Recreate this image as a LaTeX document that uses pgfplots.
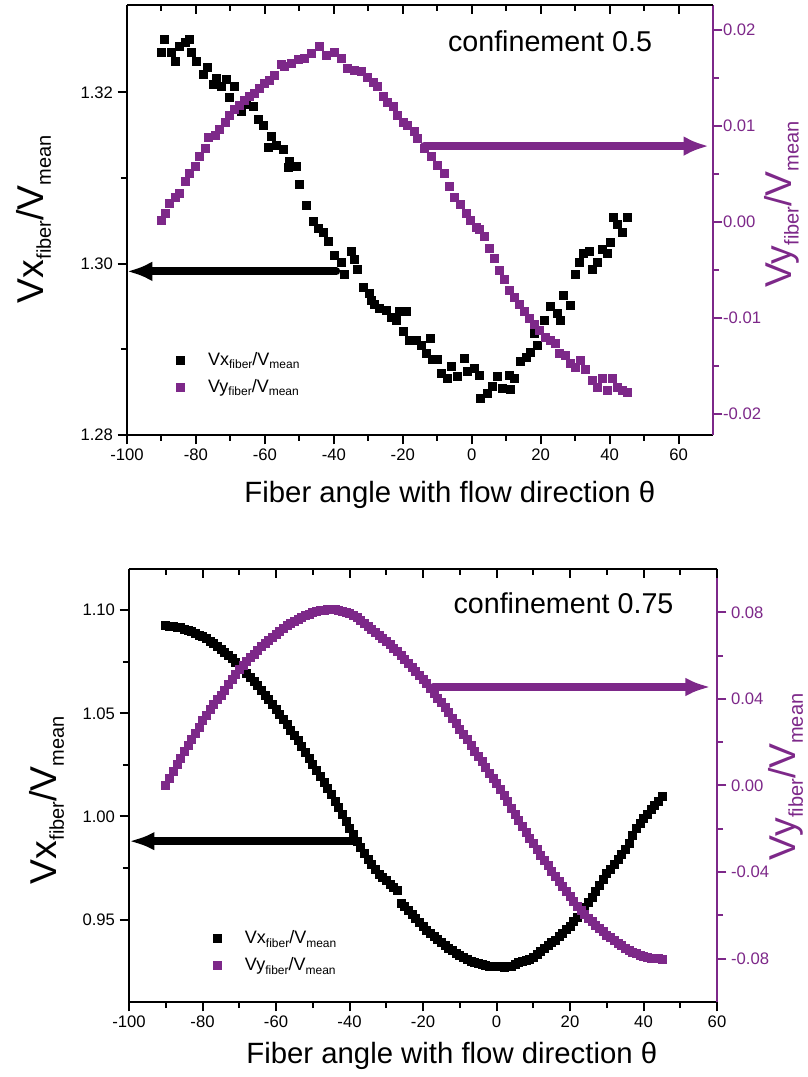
\documentclass[border=0pt]{standalone}
\usepackage{pgfplots}
\pgfplotsset{compat=1.18}
\usepackage{fontspec}
\setmainfont{Liberation Sans}
\usetikzlibrary{arrows.meta}
\definecolor{vpurple}{RGB}{125,40,137}
\newcommand{\lsub}[1]{\raisebox{-2.6pt}{\fontsize{9}{9}\selectfont #1}}
\newcommand{\bsub}[1]{\raisebox{-5.5pt}{\fontsize{15}{15}\selectfont #1}}
\newcommand{\leglab}[1]{V#1\lsub{fiber}/V\lsub{mean}}
\newcommand{\axlab}[1]{\fontsize{28}{30}\selectfont V#1\bsub{fiber}/V\bsub{mean}}

\pgfplotsset{
  base/.style={
    scale only axis, anchor=south west, clip=false,
    scaled ticks=false,
    axis line style={line width=2.2pt, -},
    tick style={line width=1.5pt, black},
    major tick length=7pt, minor tick length=4.5pt,
    tick align=outside,
    tick label style={font=\fontsize{12.5}{14}\selectfont},
    /pgf/number format/assume math mode=true,
    xtick={-100,-80,...,60}, minor x tick num=1,
  },
  twodig/.style={/pgf/number format/fixed, /pgf/number format/precision=2, /pgf/number format/fixed zerofill},
  vx/.style={only marks, mark=square*, mark size=3pt, color=black},
  vy/.style={only marks, mark=square*, mark size=3pt, color=vpurple},
  leg/.style={legend style={draw=none, fill=none, anchor=north west, font=\fontsize{13.5}{15}\selectfont, row sep=5pt},
    legend cell align=left,
    legend image code/.code={\draw[##1, only marks] plot coordinates {(0pt,0pt)}; \path[draw=none, fill=none] (-5pt,0pt) -- (19pt,0pt);}},
}

\begin{document}
\begin{tikzpicture}[x=1pt,y=1pt]
% ================= TOP PANEL =================
\begin{axis}[base, leg, at={(95.25pt,481.5pt)}, width=439.5pt, height=322.5pt,
  xmin=-100, xmax=70, ymin=1.28, ymax=1.3302,
  axis x line*=bottom, axis y line*=left,
  ytick={1.28,1.30,1.32}, minor y tick num=1,
  yticklabel style={twodig},
  xlabel={Fiber angle with flow direction θ},
  xlabel style={at={(axis description cs:0.551,-0.156)}, anchor=base, font=\fontsize{22}{24}\selectfont},
  ylabel={\axlab{x}},
  ylabel style={at={(axis description cs:-0.159,0.502)}, anchor=center},
  legend style={at={(axis description cs:0.072,0.205)}},
]
\addplot[vx] table {
-90.2 1.3247
-89.3 1.3262
-87.1 1.3247
-86.1 1.3236
-84.7 1.3254
-83.0 1.3258
-82.0 1.3262
-81.3 1.3247
-79.8 1.3236
-78.0 1.3221
-76.6 1.3229
-75.1 1.3209
-74.0 1.3217
-72.6 1.3207
-71.2 1.3215
-70.2 1.3194
-68.8 1.3207
-66.8 1.3178
-65.4 1.3186
-63.5 1.3184
-62.0 1.3169
-60.6 1.3161
-59.1 1.3136
-58.1 1.3149
-56.7 1.3138
-54.8 1.3134
-53.3 1.3113
-52.8 1.3119
-50.9 1.3114
-49.9 1.3093
-48.0 1.3068
-46.1 1.3050
-44.6 1.3041
-43.2 1.3037
-41.7 1.3026
-39.8 1.3010
-37.9 1.3002
-36.9 1.2988
-35.0 1.3014
-34.0 1.3005
-33.1 1.2993
-31.6 1.2973
-29.7 1.2965
-29.2 1.2957
-28.2 1.2953
-26.8 1.2948
-24.9 1.2946
-23.4 1.2938
-22.0 1.2934
-21.0 1.2944
-20.0 1.2921
-19.1 1.2944
-18.1 1.2911
-16.2 1.2911
-14.7 1.2905
-13.3 1.2895
-12.1 1.2913
-11.4 1.2888
-9.9 1.2888
-8.9 1.2872
-7.0 1.2866
-6.0 1.2880
-4.1 1.2868
-2.2 1.2889
-1.2 1.2874
0.7 1.2878
2.1 1.2870
2.6 1.2843
4.5 1.2849
6.0 1.2857
7.4 1.2868
8.9 1.2855
10.8 1.2870
11.3 1.2853
12.3 1.2866
14.2 1.2886
15.7 1.2891
17.1 1.2897
18.1 1.2919
19.0 1.2905
21.0 1.2934
22.9 1.2950
24.8 1.2942
25.8 1.2934
26.7 1.2963
28.7 1.2951
30.1 1.2988
31.1 1.3002
32.5 1.3012
34.0 1.3014
34.9 1.2994
36.4 1.3002
37.8 1.3017
39.3 1.3012
40.2 1.3025
41.2 1.3054
42.2 1.3046
43.6 1.3037
45.1 1.3054
};
\addlegendentry{\leglab{x}}
\addlegendimage{vy}
\addlegendentry{\leglab{y}}
\draw[black, line width=6pt, line cap=round, -{Latex[length=19pt,width=15pt]}] (axis cs:-39.3,1.2991) -- (axis cs:-100,1.2991);
\node[anchor=base east, font=\fontsize{21.5}{24}\selectfont] at (axis description cs:0.904,0.891) {confinement 0.5};
\end{axis}

\begin{axis}[base, at={(95.25pt,481.5pt)}, width=439.5pt, height=322.5pt,
  xmin=-100, xmax=70, ymin=-0.0222, ymax=0.0226,
  axis x line=none, axis y line*=right,
  y axis line style={vpurple},
  tick style={line width=1.5pt, vpurple},
  ytick={-0.02,-0.01,0,0.01,0.02}, minor y tick num=1,
  yticklabel style={twodig, text=vpurple, xshift=-3pt},
  ylabel={\axlab{y}},
  ylabel style={text=vpurple, at={(axis description cs:1.117,0.536)}, anchor=center},
]
\addplot[vy] table {
-90.2 0.0002
-89.0 0.0009
-87.6 0.0019
-86.1 0.0026
-84.7 0.0030
-83.2 0.0042
-81.8 0.0051
-80.3 0.0058
-78.9 0.0068
-77.4 0.0077
-76.5 0.0088
-74.5 0.0090
-73.1 0.0096
-71.6 0.0104
-70.2 0.0111
-68.8 0.0117
-67.3 0.0122
-65.9 0.0127
-64.4 0.0131
-63.0 0.0134
-61.5 0.0139
-60.1 0.0144
-58.7 0.0148
-57.2 0.0153
-55.2 0.0164
-54.3 0.0162
-52.3 0.0165
-50.4 0.0169
-48.5 0.0171
-46.6 0.0176
-44.2 0.0183
-42.2 0.0174
-39.8 0.0177
-37.9 0.0171
-36.0 0.0160
-34.0 0.0158
-32.1 0.0157
-30.2 0.0151
-28.7 0.0146
-27.3 0.0141
-25.8 0.0131
-24.4 0.0125
-22.9 0.0120
-21.5 0.0111
-20.0 0.0104
-18.6 0.0101
-16.7 0.0094
-15.7 0.0087
-13.8 0.0077
-11.8 0.0068
-9.9 0.0059
-8.0 0.0051
-6.5 0.0037
-5.1 0.0026
-3.2 0.0018
-1.7 0.0009
-0.3 0.0002
1.2 -0.0006
2.1 -0.0008
3.6 -0.0015
5.0 -0.0027
6.5 -0.0038
7.9 -0.0050
9.4 -0.0060
10.8 -0.0071
12.3 -0.0079
13.7 -0.0086
15.2 -0.0093
16.6 -0.0100
18.1 -0.0107
19.5 -0.0113
21.4 -0.0120
22.9 -0.0123
24.3 -0.0126
25.3 -0.0137
27.2 -0.0139
28.7 -0.0147
30.1 -0.0151
31.6 -0.0144
33.0 -0.0154
34.9 -0.0165
36.4 -0.0172
37.8 -0.0163
39.3 -0.0175
40.7 -0.0163
42.2 -0.0172
43.6 -0.0175
45.1 -0.0177
};
\draw[vpurple, line width=6pt, line cap=round, -{Latex[length=19pt,width=15pt]}] (axis cs:-13.8,0.0079) -- (axis cs:68.8,0.0079);
\end{axis}

\begin{axis}[base, at={(95.25pt,481.5pt)}, width=439.5pt, height=322.5pt,
  xmin=-100, xmax=70, ymin=0, ymax=1,
  axis x line*=top, axis y line=none, tick align=inside,
  xticklabels={}, ytick=\empty,
]
\end{axis}

% ================= BOTTOM PANEL =================
\begin{axis}[base, leg, at={(96.75pt,56.25pt)}, width=441pt, height=324.75pt,
  xmin=-100, xmax=60, ymin=0.91, ymax=1.12,
  axis x line*=bottom, axis y line*=left,
  ytick={0.95,1.00,1.05,1.10}, minor y tick num=1,
  yticklabel style={twodig},
  xlabel={Fiber angle with flow direction θ},
  xlabel style={at={(axis description cs:0.549,-0.143)}, anchor=base, font=\fontsize{22}{24}\selectfont},
  ylabel={\axlab{x}},
  ylabel style={at={(axis description cs:-0.140,0.466)}, anchor=center},
  legend style={at={(axis description cs:0.131,0.178)}},
]
\addplot[vx] table {
-90 1.0925
-89 1.0924
-88 1.0922
-87 1.0919
-86 1.0915
-85 1.0910
-84 1.0905
-83 1.0898
-82 1.0890
-81 1.0881
-80 1.0872
-79 1.0862
-78 1.0850
-77 1.0838
-76 1.0826
-75 1.0812
-74 1.0798
-73 1.0782
-72 1.0766
-71 1.0749
-70 1.0732
-69 1.0714
-68 1.0695
-67 1.0675
-66 1.0655
-65 1.0634
-64 1.0612
-63 1.0589
-62 1.0566
-61 1.0542
-60 1.0518
-59 1.0494
-58 1.0470
-57 1.0445
-56 1.0420
-55 1.0394
-54 1.0368
-53 1.0340
-52 1.0312
-51 1.0284
-50 1.0255
-49 1.0226
-48 1.0196
-47 1.0167
-46 1.0138
-45 1.0107
-44 1.0075
-43 1.0042
-42 1.0010
-41 0.9977
-40 0.9945
-39 0.9912
-38 0.9880
-37 0.9850
-36 0.9820
-35 0.9794
-34 0.9768
-33 0.9744
-32 0.9720
-31 0.9705
-30 0.9690
-29 0.9672
-28 0.9655
-27 0.9640
-26 0.9580
-25 0.9562
-24 0.9545
-23 0.9525
-22 0.9505
-21 0.9486
-20 0.9468
-19 0.9450
-18 0.9432
-17 0.9417
-16 0.9402
-15 0.9388
-14 0.9375
-13 0.9362
-12 0.9350
-11 0.9337
-10 0.9325
-9 0.9315
-8 0.9305
-7 0.9298
-6 0.9292
-5 0.9287
-4 0.9283
-3 0.9279
-2 0.9275
-1 0.9273
0 0.9272
1 0.9271
2 0.9270
3 0.9272
4 0.9275
5 0.9284
6 0.9292
7 0.9296
8 0.9300
9 0.9309
10 0.9318
11 0.9331
12 0.9345
13 0.9360
14 0.9375
15 0.9388
16 0.9400
17 0.9417
18 0.9435
19 0.9451
20 0.9468
21 0.9490
22 0.9512
23 0.9536
24 0.9560
25 0.9585
26 0.9610
27 0.9637
28 0.9665
29 0.9693
30 0.9722
31 0.9746
32 0.9770
33 0.9792
34 0.9815
35 0.9842
36 0.9870
37 0.9908
38 0.9945
39 0.9968
40 0.9990
41 1.0012
42 1.0035
43 1.0055
44 1.0075
45 1.0098
};
\addlegendentry{\leglab{x}}
\addlegendimage{vy}
\addlegendentry{\leglab{y}}
\draw[black, line width=6pt, line cap=round, -{Latex[length=19pt,width=14pt]}] (axis cs:-39,0.988) -- (axis cs:-100,0.988);
\node[anchor=base east, font=\fontsize{21.5}{24}\selectfont] at (axis description cs:0.934,0.898) {confinement 0.75};
\end{axis}

\begin{axis}[base, at={(96.75pt,56.25pt)}, width=441pt, height=324.75pt,
  xmin=-100, xmax=60, ymin=-0.10, ymax=0.10,
  axis x line=none, axis y line*=right,
  y axis line style={vpurple},
  tick style={line width=1.5pt, vpurple},
  ytick={-0.08,-0.04,0,0.04,0.08}, minor y tick num=1,
  yticklabel style={twodig, text=vpurple},
  ylabel={\axlab{y}},
  ylabel style={text=vpurple, at={(axis description cs:1.117,0.52)}, anchor=center},
]
\addplot[vy] table {
-90 0.0000
-89 0.0035
-88 0.0068
-87 0.0098
-86 0.0128
-85 0.0157
-84 0.0185
-83 0.0212
-82 0.0240
-81 0.0270
-80 0.0300
-79 0.0325
-78 0.0350
-77 0.0373
-76 0.0396
-75 0.0418
-74 0.0440
-73 0.0466
-72 0.0492
-71 0.0514
-70 0.0535
-69 0.0554
-68 0.0572
-67 0.0590
-66 0.0608
-65 0.0625
-64 0.0642
-63 0.0657
-62 0.0672
-61 0.0686
-60 0.0700
-59 0.0714
-58 0.0728
-57 0.0739
-56 0.0750
-55 0.0760
-54 0.0770
-53 0.0778
-52 0.0786
-51 0.0793
-50 0.0800
-49 0.0804
-48 0.0808
-47 0.0810
-46 0.0812
-45 0.0813
-44 0.0812
-43 0.0809
-42 0.0806
-41 0.0801
-40 0.0795
-39 0.0785
-38 0.0775
-37 0.0762
-36 0.0748
-35 0.0735
-34 0.0722
-33 0.0709
-32 0.0695
-31 0.0682
-30 0.0668
-29 0.0652
-28 0.0636
-27 0.0620
-26 0.0603
-25 0.0584
-24 0.0565
-23 0.0547
-22 0.0528
-21 0.0509
-20 0.0490
-19 0.0470
-18 0.0450
-17 0.0428
-16 0.0405
-15 0.0383
-14 0.0360
-13 0.0336
-12 0.0312
-11 0.0287
-10 0.0262
-9 0.0237
-8 0.0212
-7 0.0186
-6 0.0160
-5 0.0135
-4 0.0110
-3 0.0084
-2 0.0058
-1 0.0034
0 0.0010
1 -0.0018
2 -0.0045
3 -0.0075
4 -0.0105
5 -0.0133
6 -0.0160
7 -0.0188
8 -0.0215
9 -0.0242
10 -0.0268
11 -0.0294
12 -0.0320
13 -0.0345
14 -0.0370
15 -0.0395
16 -0.0420
17 -0.0443
18 -0.0465
19 -0.0488
20 -0.0510
21 -0.0534
22 -0.0558
23 -0.0577
24 -0.0595
25 -0.0612
26 -0.0628
27 -0.0644
28 -0.0660
29 -0.0675
30 -0.0690
31 -0.0703
32 -0.0715
33 -0.0728
34 -0.0740
35 -0.0750
36 -0.0760
37 -0.0768
38 -0.0776
39 -0.0782
40 -0.0788
41 -0.0792
42 -0.0796
43 -0.0798
44 -0.0800
45 -0.0801
};
\draw[vpurple, line width=6pt, line cap=round, -{Latex[length=19pt,width=14pt]}] (axis cs:-17.2,0.0455) -- (axis cs:58.3,0.0455);
\end{axis}

\begin{axis}[base, at={(96.75pt,56.25pt)}, width=441pt, height=324.75pt,
  xmin=-100, xmax=60, ymin=0, ymax=1,
  axis x line*=top, axis y line=none, tick align=inside,
  xticklabels={}, ytick=\empty,
]
\end{axis}

\pgfresetboundingbox
\path (0pt,0pt) rectangle (605.25pt,807.75pt);
\end{tikzpicture}
\end{document}
